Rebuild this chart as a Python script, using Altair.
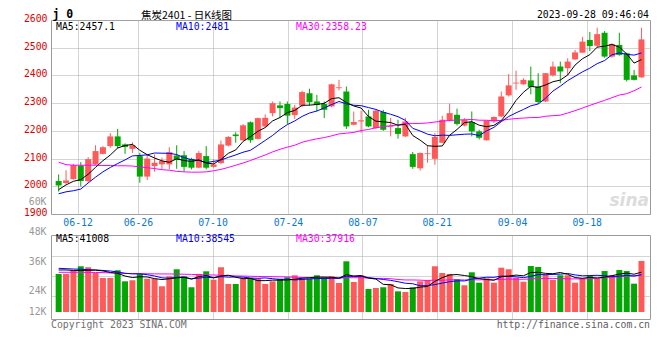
import altair as alt
import pandas as pd

# ---------------- data ----------------
holidays = {"2023-06-22", "2023-06-23"}
dates = [d.strftime("%Y-%m-%d") for d in pd.bdate_range("2023-06-07", "2023-09-28")
         if d.strftime("%Y-%m-%d") not in holidays]

open_p = [2019, 2012, 2026, 2075, 2019, 2079, 2117, 2145, 2180, 2151,
          2135, 2109, 2035, 2073, 2079, 2079, 2111, 2112, 2099, 2067,
          2109, 2070, 2084, 2147, 2187, 2166, 2231, 2171, 2216, 2264,
          2292, 2297, 2257, 2291, 2336, 2306, 2297, 2288, 2354, 2342,
          2222, 2234, 2252, 2210, 2268, 2215, 2210, 2180, 2116, 2065,
          2116, 2099, 2157, 2237, 2258, 2219, 2232, 2198, 2166, 2234,
          2252, 2328, 2371, 2368, 2382, 2360, 2306, 2400, 2432, 2426,
          2458, 2482, 2528, 2507, 2554, 2468, 2510, 2480, 2400, 2393]
high_p = [2043, 2058, 2081, 2087, 2105, 2148, 2145, 2192, 2207, 2155,
          2159, 2121, 2115, 2115, 2103, 2141, 2148, 2127, 2103, 2127,
          2145, 2097, 2165, 2181, 2195, 2224, 2234, 2248, 2259, 2306,
          2306, 2306, 2294, 2345, 2352, 2330, 2306, 2370, 2384, 2360,
          2270, 2273, 2276, 2276, 2276, 2247, 2240, 2247, 2124, 2122,
          2148, 2192, 2255, 2298, 2280, 2246, 2270, 2204, 2237, 2252,
          2342, 2405, 2417, 2390, 2432, 2408, 2408, 2450, 2450, 2462,
          2492, 2539, 2557, 2572, 2560, 2516, 2554, 2482, 2420, 2572]
low_p = [1981, 2007, 2024, 1999, 2013, 2076, 2115, 2139, 2136, 2117,
         2120, 2013, 2023, 2053, 2061, 2061, 2063, 2053, 2061, 2065,
         2061, 2067, 2079, 2144, 2157, 2165, 2157, 2169, 2213, 2252,
         2246, 2225, 2243, 2285, 2291, 2270, 2246, 2285, 2346, 2207,
         2220, 2193, 2213, 2207, 2200, 2180, 2172, 2178, 2063, 2057,
         2085, 2078, 2157, 2234, 2219, 2216, 2180, 2169, 2165, 2228,
         2249, 2324, 2348, 2366, 2332, 2297, 2304, 2396, 2372, 2400,
         2456, 2482, 2488, 2500, 2464, 2464, 2471, 2378, 2382, 2392]
close_p = [2003, 2021, 2076, 2019, 2098, 2127, 2141, 2180, 2145, 2142,
           2148, 2035, 2100, 2085, 2091, 2123, 2096, 2070, 2067, 2120,
           2067, 2079, 2151, 2178, 2181, 2220, 2166, 2246, 2247, 2300,
           2282, 2255, 2284, 2340, 2303, 2294, 2276, 2368, 2357, 2216,
           2232, 2238, 2216, 2273, 2204, 2219, 2189, 2234, 2070, 2120,
           2119, 2178, 2240, 2264, 2225, 2240, 2198, 2175, 2237, 2250,
           2324, 2364, 2374, 2384, 2358, 2304, 2408, 2432, 2414, 2450,
           2483, 2522, 2506, 2549, 2468, 2513, 2474, 2384, 2384, 2530]

ma5 = [1988, 2005, 2018, 2024, 2043.4, 2068.2, 2092.2, 2113, 2138.2, 2147,
       2151.2, 2130, 2114, 2102, 2091.8, 2086.8, 2099, 2093, 2089.4, 2095.2,
       2084, 2080.6, 2096.8, 2119, 2131.2, 2161.8, 2179.2, 2198.2, 2212, 2235.8,
       2248.2, 2266, 2273.6, 2292.2, 2292.8, 2295.2, 2299.4, 2316.2, 2319.6, 2302.2,
       2289.8, 2282.2, 2251.8, 2235, 2232.6, 2230, 2220.2, 2223.8, 2183.2, 2166.4,
       2146.4, 2144.2, 2145.4, 2184.2, 2205.2, 2229.4, 2233.4, 2220.4, 2215, 2220,
       2236.8, 2270, 2309.8, 2339.2, 2360.8, 2356.8, 2365.6, 2377.2, 2383.2, 2401.6,
       2437.4, 2460.2, 2475, 2502, 2505.6, 2511.6, 2502, 2477.6, 2444.6, 2457.1]
ma10 = [1973, 1980, 1984, 1990, 2012, 2033, 2052, 2068, 2082, 2095.2,
        2109.7, 2111.1, 2113.5, 2120.1, 2119.4, 2119, 2114.5, 2103.5, 2095.7, 2093.5,
        2085.4, 2089.8, 2094.9, 2104.2, 2113.2, 2122.9, 2129.9, 2147.5, 2165.5, 2183.5,
        2205, 2222.6, 2235.9, 2252.1, 2264.3, 2271.7, 2282.7, 2294.9, 2305.9, 2297.5,
        2292.5, 2290.8, 2284, 2277.3, 2267.4, 2259.9, 2251.2, 2237.8, 2209.1, 2199.5,
        2188.2, 2182.2, 2184.6, 2183.7, 2185.8, 2187.9, 2188.8, 2182.9, 2199.6, 2212.6,
        2233.1, 2251.7, 2265.1, 2277.1, 2290.4, 2296.8, 2317.8, 2343.5, 2361.2, 2381.2,
        2397.1, 2412.9, 2426.1, 2442.6, 2453.6, 2474.5, 2481.1, 2476.3, 2473.3, 2481]
ma30 = [2087, 2078, 2076, 2076, 2076, 2076, 2075, 2075, 2074, 2074,
        2073, 2070, 2067, 2064, 2060, 2058, 2054, 2052, 2051, 2051,
        2052, 2056, 2061, 2068, 2076, 2084, 2093, 2103, 2113, 2124.1,
        2133.4, 2141.2, 2148.1, 2158.8, 2165.6, 2171.2, 2175.7, 2182, 2189, 2191.5,
        2194.3, 2201.1, 2204.9, 2211.2, 2215, 2218.2, 2221.3, 2226.7, 2226.8, 2226.8,
        2228.6, 2231.9, 2234.8, 2237.7, 2239.2, 2239.8, 2240.9, 2238.5, 2238.2, 2236.5,
        2237.9, 2241.6, 2244.6, 2246, 2247.9, 2248.2, 2252.6, 2254.7, 2256.6, 2264.4,
        2272.8, 2282.3, 2291.9, 2301.1, 2309.9, 2319.7, 2329.2, 2334.2, 2344.7, 2358.2]

# volume, thousand lots
vol = [39.2, 39.2, 43.0, 47.1, 46.1, 40.2, 35.0, 35.0, 43.0, 31.6,
       32.7, 39.2, 34.3, 34.3, 26.5, 36.8, 44.0, 36.8, 25.5, 39.2,
       41.9, 33.3, 46.1, 28.9, 28.9, 34.3, 35.0, 34.3, 28.9, 31.6,
       34.3, 35.8, 37.8, 34.3, 34.3, 37.8, 35.8, 36.8, 29.9, 52.2,
       30.9, 37.8, 23.7, 24.7, 25.5, 28.9, 21.3, 20.6, 25.5, 31.6,
       32.7, 47.1, 40.2, 39.2, 34.0, 27.5, 40.9, 30.2, 34.7, 30.2,
       45.6, 44.0, 35.3, 31.2, 47.4, 46.4, 38.8, 33.0, 37.8, 37.8,
       30.2, 34.7, 37.8, 34.3, 42.2, 37.8, 43.3, 42.2, 29.2, 52.6]
vma5 = [43.3, 43.3, 42.8, 42.8, 42.9, 43.1, 42.3, 40.7, 39.9, 37.0,
        35.5, 36.3, 36.1, 34.4, 33.4, 34.2, 35.2, 35.7, 33.9, 36.4,
        37.5, 35.3, 37.2, 37.9, 35.8, 34.3, 34.6, 32.3, 32.3, 32.8,
        32.8, 33.0, 33.7, 34.8, 35.3, 36.0, 36.0, 35.8, 34.9, 38.5,
        37.1, 37.5, 34.9, 33.9, 28.5, 28.1, 24.8, 24.2, 24.3, 25.6,
        26.3, 31.5, 35.4, 38.1, 38.6, 37.6, 36.4, 34.4, 33.5, 32.7,
        36.3, 37.0, 38.0, 37.3, 40.7, 40.9, 39.8, 39.4, 40.7, 38.8,
        35.5, 34.7, 35.7, 35.0, 35.9, 37.4, 39.1, 40.0, 38.9, 41.0]
vma10 = [45.0, 44.6, 44.3, 44.0, 43.6, 43.3, 42.8, 42.2, 41.2, 39.9,
         39.3, 39.3, 38.4, 37.1, 35.2, 34.8, 35.7, 35.9, 34.2, 34.9,
         35.8, 35.2, 36.4, 35.9, 36.1, 35.9, 35.0, 34.7, 35.1, 34.3,
         33.5, 33.8, 33.0, 33.5, 34.1, 34.4, 34.5, 34.7, 34.8, 36.9,
         36.6, 36.8, 35.4, 34.4, 33.5, 32.6, 31.2, 29.6, 29.1, 27.0,
         27.2, 28.2, 29.8, 31.2, 32.1, 32.0, 33.9, 34.9, 35.8, 35.7,
         37.0, 36.7, 36.2, 35.4, 36.7, 38.6, 38.4, 38.7, 39.0, 39.7,
         38.2, 37.3, 37.5, 37.8, 37.3, 36.5, 36.9, 37.8, 37.0, 38.5]
vma30 = [40.9, 40.9, 40.9, 40.9, 40.8, 40.7, 40.6, 40.2, 40.0, 39.7,
         39.6, 39.5, 39.4, 39.3, 39.2, 39.2, 39.1, 38.9, 38.7, 38.5,
         38.3, 38.1, 37.8, 37.5, 37.2, 37.0, 36.8, 36.6, 36.5, 36.4,
         36.2, 36.1, 35.9, 35.5, 35.1, 35.0, 35.1, 35.1, 34.7, 35.4,
         35.3, 35.3, 34.9, 34.6, 34.6, 34.3, 33.5, 33.0, 33.0, 32.8,
         32.4, 32.9, 32.7, 33.1, 33.2, 33.0, 33.2, 33.1, 33.3, 33.2,
         33.6, 33.9, 33.8, 33.7, 34.1, 34.4, 34.5, 34.4, 34.6, 34.1,
         34.1, 34.0, 34.5, 34.8, 35.4, 35.7, 36.4, 37.1, 37.2, 37.9]

tick_labels = ["06-12", "06-26", "07-10", "07-24", "08-07", "08-21", "09-04", "09-18"]
price_ticks = [1900, 2000, 2100, 2200, 2300, 2400, 2500, 2600]
vol_labels = ["60K", "48K", "36K", "24K", "12K"]

legend_price = ["MA5:2457.1", "MA10:2481", "MA30:2358.23"]
legend_vol = ["MA5:41008", "MA10:38545", "MA30:37916"]

n = len(dates)
for arr in (open_p, high_p, low_p, close_p, ma5, ma10, ma30, vol, vma5, vma10, vma30):
    assert len(arr) == n, len(arr)

df = pd.DataFrame({
    "i": list(range(n)), "date": dates,
    "open": open_p, "high": high_p, "low": low_p, "close": close_p,
    "ma5": ma5, "ma10": ma10, "ma30": ma30,
    "vol": vol, "base": [0] * n, "vma5": vma5, "vma10": vma10, "vma30": vma30,
})

# ---------------- styling ----------------
RED = "#ff5a5a"
GREEN = "#04a604"
GRID = "#a8a8a8"
MONO = "DejaVu Sans Mono"
FS = 9.8
W, H_P, H_V = 599, 194, 84

updown = alt.condition("datum.close >= datum.open", alt.value(RED), alt.value(GREEN))

# grid positions of the date ticks on the candle index axis
tick_pos = [2.57, 10.74, 20.86, 31.08, 41.17, 51.24, 61.46, 71.58]
label_expr = ("[" + ",".join("'%s'" % t for t in tick_labels) + "][indexof(["
              + ",".join(str(p) for p in tick_pos) + "], datum.value)]")

x_scale = alt.Scale(domain=[-0.36, 79.48], nice=False, zero=False)
x_axis_p = alt.Axis(values=tick_pos, labelExpr=label_expr, title=None, ticks=False,
                    domain=False, grid=True, gridColor=GRID, gridDash=[1, 1],
                    labelColor="#0a78d0", labelFont=MONO, labelFontSize=FS,
                    labelPadding=3, labelFlush=False, labelOverlap=False)
x_axis_v = alt.Axis(values=tick_pos, labels=False, title=None, ticks=False,
                    domain=False, grid=True, gridColor=GRID, gridDash=[1, 1])

p_scale = alt.Scale(domain=[1900, 2600], nice=False, zero=False)
p_axis = alt.Axis(values=price_ticks, format="d", title=None, ticks=False, domain=False,
                  grid=True, gridColor=GRID, gridDash=[1, 1], labelColor="#e00000",
                  labelFont=MONO, labelFontSize=FS, labelPadding=4, labelFlush=False,
                  labelOverlap=False, labelOffset=-1.5)
v_scale = alt.Scale(domain=[-7.2, 79.3], nice=False, zero=False)
v_axis = alt.Axis(values=[16.0, 36.8, 57.7], labels=False, title=None, ticks=False,
                  domain=False, grid=True, gridColor=GRID, gridDash=[1, 1])


def xp():
    return alt.X("i:Q", scale=x_scale, axis=x_axis_p)


def xv():
    return alt.X("i:Q", scale=x_scale, axis=x_axis_v)


def yp(field):
    return alt.Y(field + ":Q", scale=p_scale, axis=p_axis)


def yv(field):
    return alt.Y(field + ":Q", scale=v_scale, axis=v_axis)


def txt(s, x, y, color="#000000", size=FS, align="left", font=MONO, weight="normal",
        style="normal", baseline="middle"):
    return alt.Chart(pd.DataFrame({"t": [s]})).mark_text(
        align=align, baseline=baseline, font=font, fontSize=size, color=color,
        fontWeight=weight, fontStyle=style
    ).encode(x=alt.value(x), y=alt.value(y), text="t:N")


base = alt.Chart(df)

wicks = base.mark_rule(strokeWidth=1).encode(x=xp(), y=yp("low"), y2="high:Q", color=updown)
bodies = base.mark_bar(size=6).encode(x=xp(), y=yp("open"), y2="close:Q", color=updown)
l30 = base.mark_line(color="#ff00ff", strokeWidth=1).encode(x=xp(), y=yp("ma30"))
l10 = base.mark_line(color="#0000ff", strokeWidth=1).encode(x=xp(), y=yp("ma10"))
l5 = base.mark_line(color="#000000", strokeWidth=1).encode(x=xp(), y=yp("ma5"))

price = alt.layer(
    wicks, bodies, l30, l10, l5,
    txt("sina", 598, 181, color="#dcdcdc", size=17, align="right",
        font="DejaVu Sans", weight="bold", style="italic"),
    txt(legend_price[0], 5, 6.8, color="#000000"),
    txt(legend_price[1], 125, 6.8, color="#0000ff"),
    txt(legend_price[2], 245, 6.8, color="#ff00ff"),
    txt("j 0", 1.5, -2, size=11.5, weight="bold", baseline="alphabetic"),
    txt("焦炭2401 - 日K线图", 90, -1.5, size=10.5, font="Noto Sans CJK SC",
        baseline="alphabetic"),
    txt("2023-09-28 09:46:04", 598, -2.5, align="right", baseline="alphabetic"),
).properties(width=W, height=H_P)

vbars = base.mark_bar(size=6).encode(x=xv(), y=yv("vol"), y2="base:Q", color=updown)
v30 = base.mark_line(color="#ff00ff", strokeWidth=1).encode(x=xv(), y=yv("vma30"))
v10 = base.mark_line(color="#0000ff", strokeWidth=1).encode(x=xv(), y=yv("vma10"))
v5 = base.mark_line(color="#000000", strokeWidth=1).encode(x=xv(), y=yv("vma5"))

vol_label_y = [-33.3, -3.3, 26.7, 56, 76.7]
vol_texts = [txt(lab, -4.5, yy, color="#999999", align="right")
             for lab, yy in zip(vol_labels, vol_label_y)]

volume = alt.layer(
    vbars, v30, v10, v5,
    txt(legend_vol[0], 5, 4.3, color="#000000"),
    txt(legend_vol[1], 125, 4.3, color="#0000ff"),
    txt(legend_vol[2], 245, 4.3, color="#ff00ff"),
    *vol_texts,
    txt("Copyright 2023 SINA.COM", 0, 89.5, color="#707070"),
    txt("http://finance.sina.com.cn", 599, 90, color="#606060", align="right"),
).properties(width=W, height=H_V)

chart = alt.vconcat(price, volume, spacing=21, bounds="flush").resolve_scale(
    x="independent", y="independent"
).properties(
    padding={"left": 14, "top": 0, "right": 0, "bottom": 0},
    background="#ffffff",
).configure_view(stroke="#9a9a9a", strokeWidth=1)

chart.save("out.html", embed_options={"renderer": "svg", "actions": False})
